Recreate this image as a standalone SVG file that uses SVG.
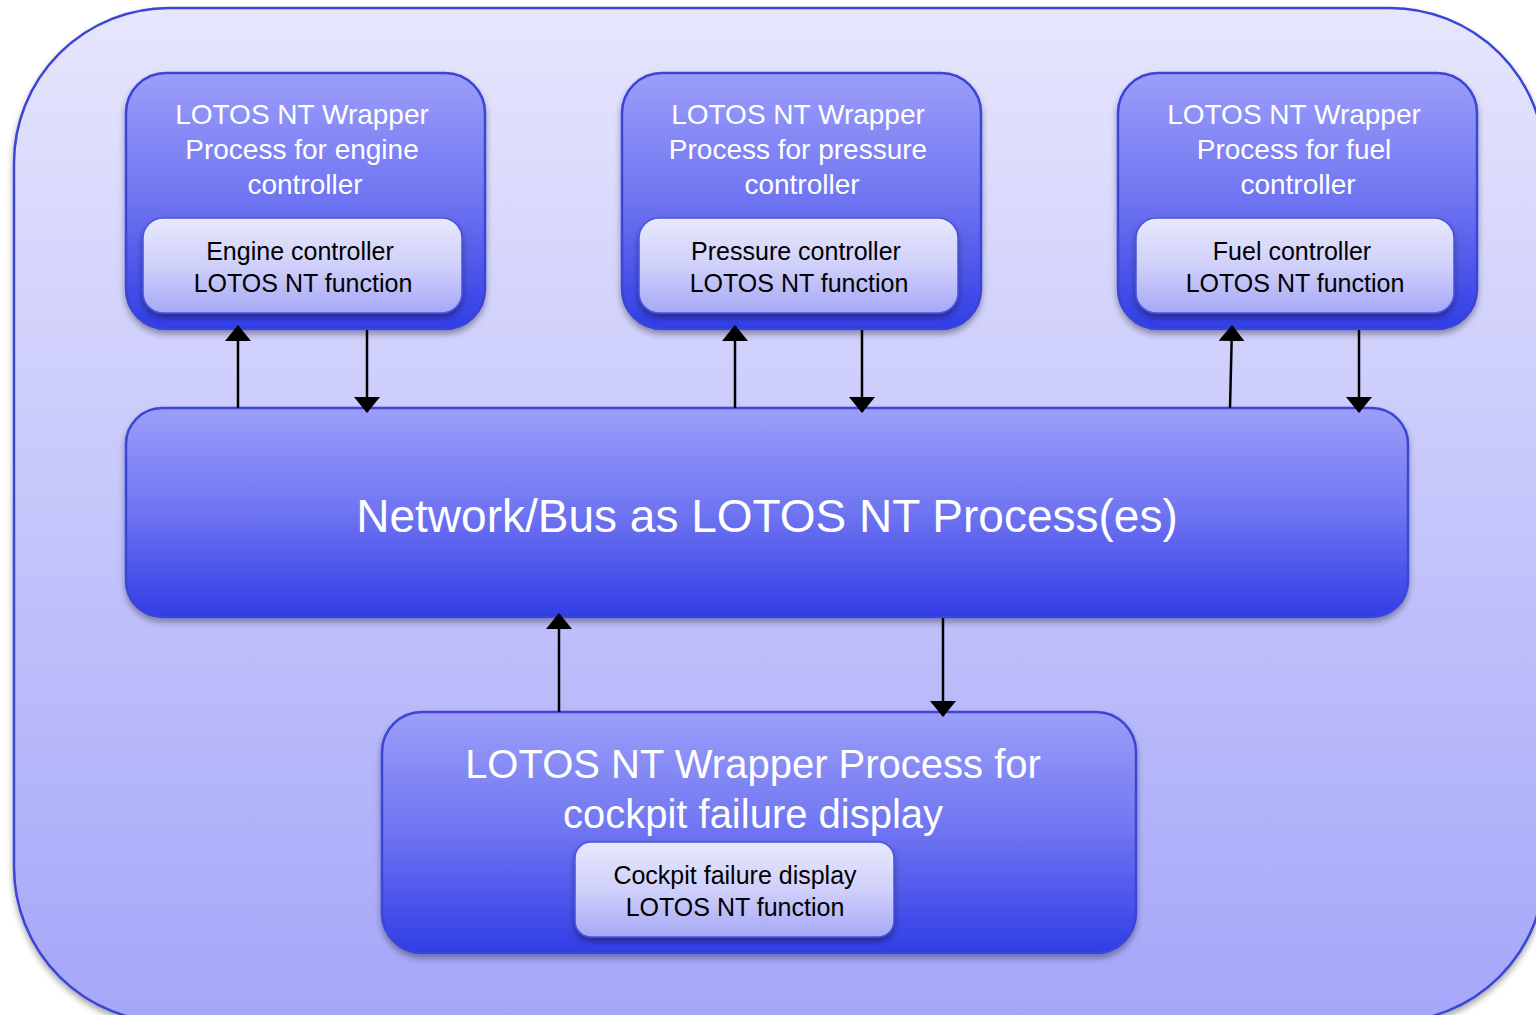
<svg xmlns="http://www.w3.org/2000/svg" width="1536" height="1015" viewBox="0 0 1536 1015">
  <defs>
    <linearGradient id="gOuter" x1="0" y1="0" x2="0" y2="1">
      <stop offset="0" stop-color="#e6e6fd"/>
      <stop offset="1" stop-color="#a4a6f9"/>
    </linearGradient>
    <linearGradient id="gProc" x1="0" y1="0" x2="0" y2="1">
      <stop offset="0" stop-color="#9c9ef9"/>
      <stop offset="0.5" stop-color="#6e74f1"/>
      <stop offset="1" stop-color="#313de6"/>
    </linearGradient>
    <linearGradient id="gFunc" x1="0" y1="0" x2="0" y2="1">
      <stop offset="0" stop-color="#e8e8fd"/>
      <stop offset="0.5" stop-color="#cfd0fa"/>
      <stop offset="1" stop-color="#a6a8f6"/>
    </linearGradient>
    <filter id="shadow" x="-10%" y="-10%" width="120%" height="130%">
      <feDropShadow dx="0" dy="4" stdDeviation="3" flood-color="#000" flood-opacity="0.35"/>
    </filter>
    <marker id="arrow" viewBox="0 0 16 26" refX="15" refY="13" markerWidth="16" markerHeight="26" markerUnits="userSpaceOnUse" orient="auto">
      <path d="M0,0 L16,13 L0,26 Z" fill="#000"/>
    </marker>
    <style>
      .outer { fill: url(#gOuter); stroke: #3a44d6; stroke-width: 2.5; filter: url(#shadow); }
      .proc { fill: url(#gProc); stroke: #3a44d6; stroke-width: 2.5; filter: url(#shadow); }
      .func { fill: url(#gFunc); stroke: #4a52dc; stroke-width: 1.5; filter: url(#shadow); }
      .ttl { font-family: "Liberation Sans", Arial, sans-serif; fill: #ffffff; text-anchor: middle; }
      .fn { font-family: "Liberation Sans", Arial, sans-serif; fill: #000000; text-anchor: middle; font-size: 25px; }
      .conn line { stroke: #000; stroke-width: 2.5; marker-end: url(#arrow); }
    </style>
  </defs>

  <!-- system boundary -->
  <rect class="outer" x="14" y="8" width="1531" height="1014" rx="155" ry="155"/>

  <!-- engine controller wrapper -->
  <g id="engine">
    <rect class="proc" x="126" y="73" width="359" height="256" rx="40"/>
    <text class="ttl" font-size="28"><tspan x="302" y="124">LOTOS NT Wrapper</tspan><tspan x="302" y="159">Process for engine</tspan><tspan x="305" y="194">controller</tspan></text>
    <rect class="func" x="143" y="218" width="319" height="95" rx="20"/>
    <text class="fn"><tspan x="300" y="260">Engine controller</tspan><tspan x="303" y="292">LOTOS NT function</tspan></text>
  </g>

  <!-- pressure controller wrapper -->
  <g id="pressure">
    <rect class="proc" x="622" y="73" width="359" height="256" rx="40"/>
    <text class="ttl" font-size="28"><tspan x="798" y="124">LOTOS NT Wrapper</tspan><tspan x="798" y="159">Process for pressure</tspan><tspan x="802" y="194">controller</tspan></text>
    <rect class="func" x="639" y="218" width="319" height="95" rx="20"/>
    <text class="fn"><tspan x="796" y="260">Pressure controller</tspan><tspan x="799" y="292">LOTOS NT function</tspan></text>
  </g>

  <!-- fuel controller wrapper -->
  <g id="fuel">
    <rect class="proc" x="1118" y="73" width="359" height="256" rx="40"/>
    <text class="ttl" font-size="28"><tspan x="1294" y="124">LOTOS NT Wrapper</tspan><tspan x="1294" y="159">Process for fuel</tspan><tspan x="1298" y="194">controller</tspan></text>
    <rect class="func" x="1136" y="218" width="318" height="95" rx="20"/>
    <text class="fn"><tspan x="1292" y="260">Fuel controller</tspan><tspan x="1295" y="292">LOTOS NT function</tspan></text>
  </g>

  <!-- network / bus -->
  <g id="network">
    <rect class="proc" x="126" y="408" width="1282" height="209" rx="36"/>
    <text class="ttl" font-size="46" x="767" y="532">Network/Bus as LOTOS NT Process(es)</text>
  </g>

  <!-- cockpit failure display wrapper -->
  <g id="cockpit">
    <rect class="proc" x="382" y="712" width="754" height="241" rx="40"/>
    <text class="ttl" font-size="40"><tspan x="753" y="778">LOTOS NT Wrapper Process for</tspan><tspan x="753" y="828">cockpit failure display</tspan></text>
    <rect class="func" x="575" y="842" width="319" height="95" rx="16"/>
    <text class="fn"><tspan x="735" y="884">Cockpit failure display</tspan><tspan x="735" y="916">LOTOS NT function</tspan></text>
  </g>

  <!-- connectors -->
  <g id="connectors" class="conn">
    <line x1="238" y1="408" x2="238" y2="326"/>
    <line x1="367" y1="330" x2="367" y2="412"/>
    <line x1="735" y1="408" x2="735" y2="326"/>
    <line x1="862" y1="330" x2="862" y2="412"/>
    <line x1="1230" y1="408" x2="1232" y2="326"/>
    <line x1="1359" y1="330" x2="1359" y2="412"/>
    <line x1="559" y1="712" x2="559" y2="614"/>
    <line x1="943" y1="618" x2="943" y2="716"/>
  </g>
</svg>
